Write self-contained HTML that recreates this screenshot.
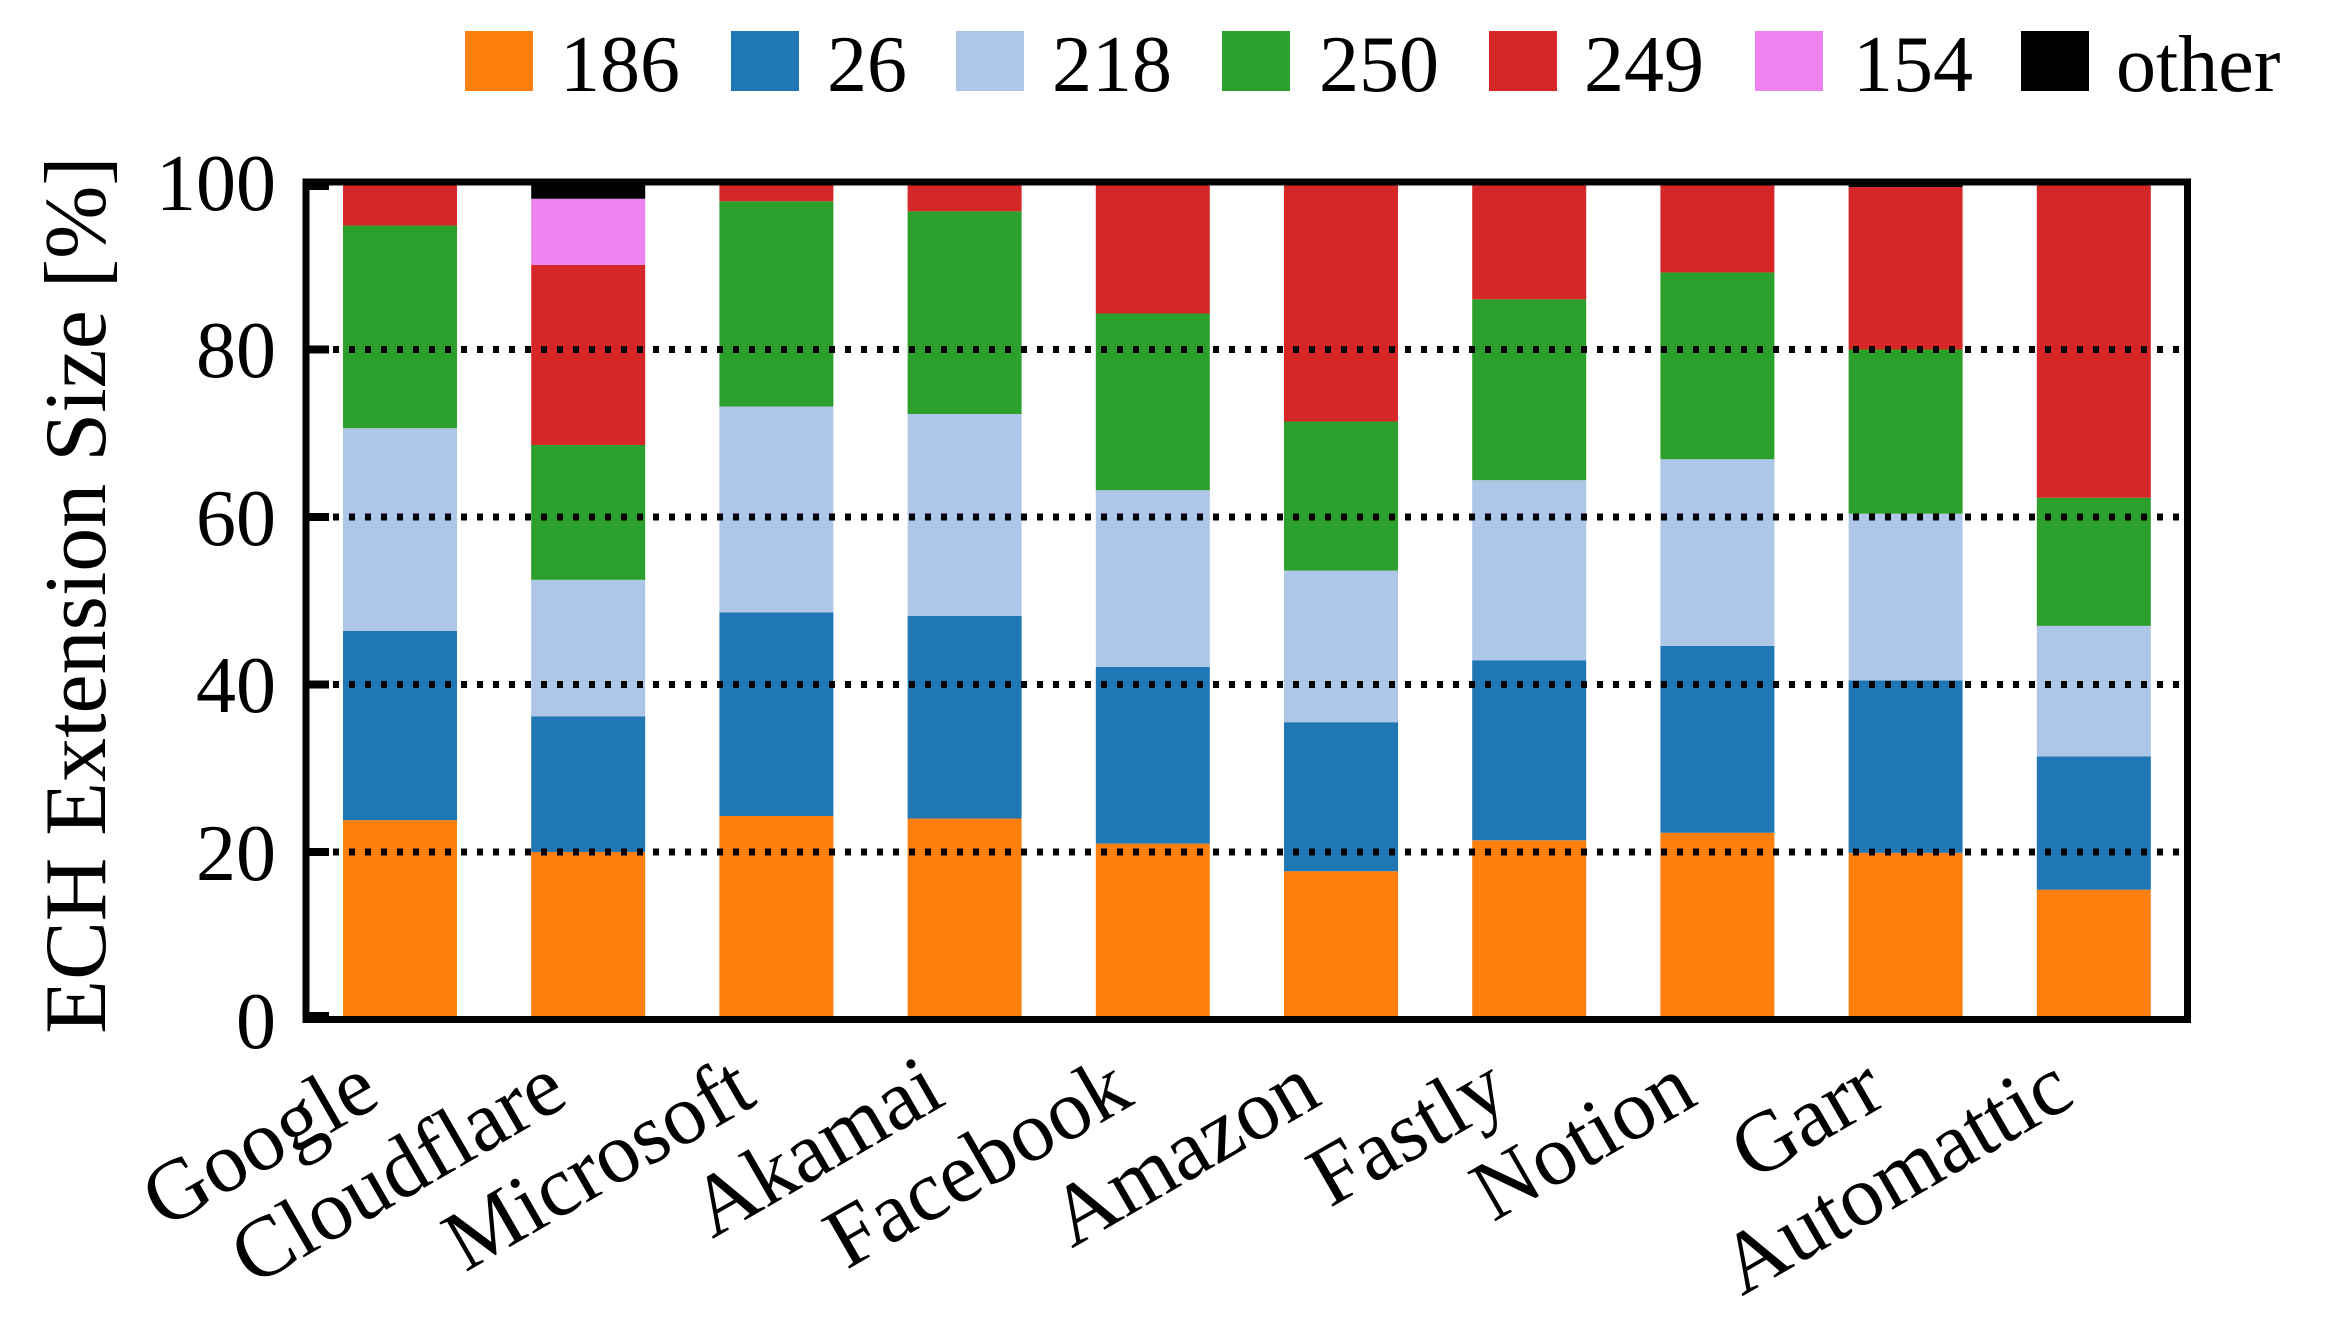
<!DOCTYPE html>
<html><head><meta charset="utf-8"><style>html,body{margin:0;padding:0;background:#fff}svg{display:block}</style></head>
<body>
<svg width="2326" height="1327" viewBox="0 0 2326 1327" xmlns="http://www.w3.org/2000/svg" font-family="'Liberation Serif', serif">
<g font-size="80">
<rect x="465" y="31" width="68" height="60" fill="#ff7f0e"/><text x="560" y="91">186</text>
<rect x="731" y="31" width="68" height="60" fill="#1f77b4"/><text x="827" y="91">26</text>
<rect x="956" y="31" width="68" height="60" fill="#aec7e8"/><text x="1052" y="91">218</text>
<rect x="1222" y="31" width="68" height="60" fill="#2ca02c"/><text x="1319" y="91">250</text>
<rect x="1489" y="31" width="68" height="60" fill="#d62728"/><text x="1584" y="91">249</text>
<rect x="1755" y="31" width="68" height="60" fill="#ee82ee"/><text x="1853" y="91">154</text>
<rect x="2021" y="31" width="68" height="60" fill="#000"/><text x="2116" y="91">other</text>
</g>
<g transform="translate(0,1019.5) scale(1,-8.375)">
<g transform="translate(343,0)">
<rect width="114" y="0" height="23.8" fill="#ff7f0e"/><rect width="114" y="23.8" height="22.6" fill="#1f77b4"/><rect width="114" y="46.4" height="24.2" fill="#aec7e8"/><rect width="114" y="70.6" height="24.2" fill="#2ca02c"/><rect width="114" y="94.8" height="5.2" fill="#d62728"/></g>
<g transform="translate(531.2,0)">
<rect width="114" y="0" height="20" fill="#ff7f0e"/><rect width="114" y="20" height="16.2" fill="#1f77b4"/><rect width="114" y="36.2" height="16.3" fill="#aec7e8"/><rect width="114" y="52.5" height="16.1" fill="#2ca02c"/><rect width="114" y="68.6" height="21.5" fill="#d62728"/><rect width="114" y="90.1" height="7.9" fill="#ee82ee"/><rect width="114" y="98" height="2" fill="#000"/></g>
<g transform="translate(719.4,0)">
<rect width="114" y="0" height="24.3" fill="#ff7f0e"/><rect width="114" y="24.3" height="24.3" fill="#1f77b4"/><rect width="114" y="48.6" height="24.6" fill="#aec7e8"/><rect width="114" y="73.2" height="24.5" fill="#2ca02c"/><rect width="114" y="97.7" height="2.3" fill="#d62728"/></g>
<g transform="translate(907.6,0)">
<rect width="114" y="0" height="24" fill="#ff7f0e"/><rect width="114" y="24" height="24.2" fill="#1f77b4"/><rect width="114" y="48.2" height="24.1" fill="#aec7e8"/><rect width="114" y="72.3" height="24.2" fill="#2ca02c"/><rect width="114" y="96.5" height="3.5" fill="#d62728"/></g>
<g transform="translate(1095.8,0)">
<rect width="114" y="0" height="21" fill="#ff7f0e"/><rect width="114" y="21" height="21.1" fill="#1f77b4"/><rect width="114" y="42.1" height="21.1" fill="#aec7e8"/><rect width="114" y="63.2" height="21.1" fill="#2ca02c"/><rect width="114" y="84.3" height="15.7" fill="#d62728"/></g>
<g transform="translate(1284,0)">
<rect width="114" y="0" height="17.7" fill="#ff7f0e"/><rect width="114" y="17.7" height="17.8" fill="#1f77b4"/><rect width="114" y="35.5" height="18.1" fill="#aec7e8"/><rect width="114" y="53.6" height="17.8" fill="#2ca02c"/><rect width="114" y="71.4" height="28.6" fill="#d62728"/></g>
<g transform="translate(1472.2,0)">
<rect width="114" y="0" height="21.4" fill="#ff7f0e"/><rect width="114" y="21.4" height="21.5" fill="#1f77b4"/><rect width="114" y="42.9" height="21.5" fill="#aec7e8"/><rect width="114" y="64.4" height="21.6" fill="#2ca02c"/><rect width="114" y="86" height="14" fill="#d62728"/></g>
<g transform="translate(1660.4,0)">
<rect width="114" y="0" height="22.3" fill="#ff7f0e"/><rect width="114" y="22.3" height="22.3" fill="#1f77b4"/><rect width="114" y="44.6" height="22.3" fill="#aec7e8"/><rect width="114" y="66.9" height="22.3" fill="#2ca02c"/><rect width="114" y="89.2" height="10.8" fill="#d62728"/></g>
<g transform="translate(1848.6,0)">
<rect width="114" y="0" height="19.9" fill="#ff7f0e"/><rect width="114" y="19.9" height="20.6" fill="#1f77b4"/><rect width="114" y="40.5" height="19.9" fill="#aec7e8"/><rect width="114" y="60.4" height="19.6" fill="#2ca02c"/><rect width="114" y="80" height="19.4" fill="#d62728"/><rect width="114" y="99.4" height="0.6" fill="#000"/></g>
<g transform="translate(2036.8,0)">
<rect width="114" y="0" height="15.5" fill="#ff7f0e"/><rect width="114" y="15.5" height="15.9" fill="#1f77b4"/><rect width="114" y="31.4" height="15.6" fill="#aec7e8"/><rect width="114" y="47" height="15.3" fill="#2ca02c"/><rect width="114" y="62.3" height="37.7" fill="#d62728"/></g>
</g>
<g stroke="#000" stroke-width="7" stroke-dasharray="6 10">
<line x1="333" x2="2184" y1="852" y2="852"/><line x1="333" x2="2184" y1="684.5" y2="684.5"/><line x1="333" x2="2184" y1="517" y2="517"/><line x1="333" x2="2184" y1="349.5" y2="349.5"/>
</g>
<g stroke="#000" stroke-width="8">
<line x1="306" x2="329" y1="852" y2="852"/><line x1="306" x2="329" y1="684.5" y2="684.5"/><line x1="306" x2="329" y1="517" y2="517"/><line x1="306" x2="329" y1="349.5" y2="349.5"/><line x1="306" x2="329" y1="186" y2="186"/><line x1="306" x2="329" y1="1016" y2="1016"/>
</g>
<rect x="306" y="182" width="1881.5" height="837.5" fill="none" stroke="#000" stroke-width="7"/>
<g font-size="80" text-anchor="end">
<text x="276" y="1048">0</text><text x="276" y="880">20</text><text x="276" y="712">40</text><text x="276" y="545">60</text><text x="276" y="377">80</text><text x="276" y="210">100</text>
</g>
<text transform="translate(105,595) rotate(-90)" font-size="88" text-anchor="middle">ECH Extension Size [%]</text>
<g font-size="86" text-anchor="end">
<text transform="translate(383,1103) rotate(-30)">Google</text>
<text transform="translate(571,1103) rotate(-30)">Cloudflare</text>
<text transform="translate(759,1103) rotate(-30)">Microsoft</text>
<text transform="translate(948,1103) rotate(-30)">Akamai</text>
<text transform="translate(1136,1103) rotate(-30)">Facebook</text>
<text transform="translate(1324,1103) rotate(-30)">Amazon</text>
<text transform="translate(1512,1103) rotate(-30)">Fastly</text>
<text transform="translate(1700,1103) rotate(-30)">Notion</text>
<text transform="translate(1889,1103) rotate(-30)">Garr</text>
<text transform="translate(2077,1103) rotate(-30)">Automattic</text>
</g>
</svg>
</body></html>
